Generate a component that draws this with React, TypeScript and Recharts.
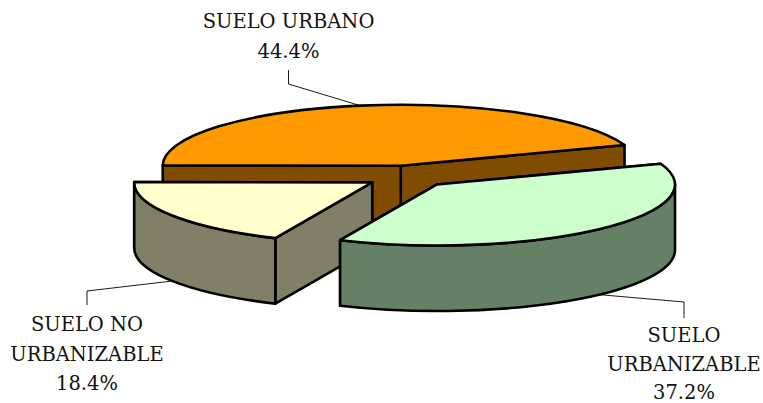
import React from "react";
import { PieChart, Pie, Cell } from "recharts";

// Data, in drawing order (back slice first, front slice last)
const sliceNames = ["SUELO URBANO", "SUELO NO URBANIZABLE", "SUELO URBANIZABLE"];
const sliceValues = [44.4, 18.4, 37.2];
const labelRows = [["SUELO URBANO"], ["SUELO NO", "URBANIZABLE"], ["SUELO", "URBANIZABLE"]];

const rows = sliceNames.map((name, i) => ({ name, value: sliceValues[i] }));

// Styles
const topColors = ["#FF9900", "#FFFFCC", "#CCFFCC"];
const wallColors = ["#804D00", "#808066", "#668066"];
const FONT = "'DejaVu Serif', serif";
const FONT_SIZE = 19.5;
const LINE_H = [30, 29.5, 28.7];

// Layout
const W = 763;
const H = 403;
const CX = 408;
const CY = 176.5;
const R = 238;
const SQUASH = 61 / 238;
const DEPTH = 65.5;
const EXPLODE = 42.6;
const START = 19.9;
const labelX = [288.5, 87, 684];
const labelBase = [28, 331, 342];
const elbowY = [84, 291, 302];
const tipY = [70, 305, 318];

const rad = (d: number) => (d * Math.PI) / 180;
const centre = (cx: number, cy: number, mid: number) => ({
  x: cx + EXPLODE * Math.cos(rad(mid)),
  y: cy - EXPLODE * SQUASH * Math.sin(rad(mid)),
});
const rim = (c: { x: number; y: number }, r: number, a: number, dy = 0) => ({
  x: c.x + r * Math.cos(rad(a)),
  y: c.y - r * SQUASH * Math.sin(rad(a)) + dy,
});

function Slice3D(props: any) {
  const { cx, cy, outerRadius: r, startAngle, endAngle, midAngle, fill } = props;
  const lo = Math.min(startAngle, endAngle);
  const hi = Math.max(startAngle, endAngle);
  const mid = midAngle ?? (lo + hi) / 2;
  const c = centre(cx, cy, mid);
  const wall = wallColors[topColors.indexOf(fill)];
  const ry = r * SQUASH;
  const a = rim(c, r, lo);
  const b = rim(c, r, hi);
  const common = { stroke: "#000", strokeWidth: 2.6, strokeLinejoin: "round" as const };

  const radial = (p: { x: number; y: number }) =>
    `M${c.x},${c.y} L${p.x},${p.y} L${p.x},${p.y + DEPTH} L${c.x},${c.y + DEPTH} Z`;

  // front part of the rim: angles between 180 and 360
  const f0 = Math.max(lo, 180);
  const f1 = Math.min(hi, 360);
  let outer = "";
  if (f1 > f0) {
    const p0 = rim(c, r, f0);
    const p1 = rim(c, r, f1);
    outer =
      `M${p0.x},${p0.y} A${r},${ry} 0 0 0 ${p1.x},${p1.y} ` +
      `L${p1.x},${p1.y + DEPTH} A${r},${ry} 0 0 1 ${p0.x},${p0.y + DEPTH} Z`;
  }
  const large = hi - lo > 180 ? 1 : 0;
  const top = `M${c.x},${c.y} L${a.x},${a.y} A${r},${ry} 0 ${large} 0 ${b.x},${b.y} Z`;

  return (
    <g>
      <path d={radial(a)} fill={wall} {...common} />
      <path d={radial(b)} fill={wall} {...common} />
      {outer && <path d={outer} fill={wall} {...common} />}
      <path d={top} fill={fill} {...common} />
    </g>
  );
}

function leaderPoints(props: any) {
  const { cx, cy, midAngle, index } = props;
  const c = centre(cx, cy, midAngle);
  const front = Math.sin(rad(midAngle)) < 0;
  const p = rim(c, R, midAngle, front ? DEPTH : 0);
  return `${p.x},${p.y} ${labelX[index]},${elbowY[index]} ${labelX[index]},${tipY[index]}`;
}

function Leader(props: any) {
  return <polyline points={leaderPoints(props)} fill="none" stroke="#000" strokeWidth={0.9} />;
}

function SliceLabel(props: any) {
  const { index, value } = props;
  const lines = [...labelRows[index], `${Number(value).toFixed(1)}%`];
  return (
    <g>
      {lines.map((t, i) => (
        <text
          key={t}
          x={labelX[index]}
          y={labelBase[index] + i * LINE_H[index]}
          textAnchor="middle"
          fontFamily={FONT}
          fontSize={FONT_SIZE}
          fill="#111"
        >
          {t}
        </text>
      ))}
    </g>
  );
}

export default function App() {
  return (
    <div style={{ position: "absolute", left: 0, top: 0, width: W, height: H, background: "#fff" }}>
      <PieChart width={W} height={H} margin={{ top: 0, right: 0, bottom: 0, left: 0 }}>
        <Pie
          data={rows}
          dataKey="value"
          nameKey="name"
          cx={CX}
          cy={CY}
          innerRadius={0}
          outerRadius={R}
          startAngle={START}
          endAngle={START + 360}
          paddingAngle={0}
          isAnimationActive={false}
          shape={Slice3D}
          activeShape={Slice3D}
          inactiveShape={Slice3D}
          label={SliceLabel}
          labelLine={Leader}
        >
          {rows.map((r, i) => (
            <Cell key={r.name} fill={topColors[i]} />
          ))}
        </Pie>
      </PieChart>
    </div>
  );
}
